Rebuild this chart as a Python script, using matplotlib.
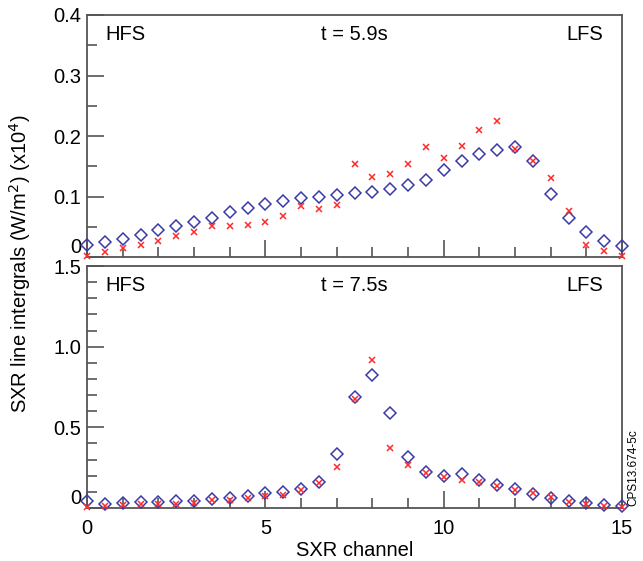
import numpy as np
import matplotlib.pyplot as plt
from matplotlib.ticker import MultipleLocator, FixedLocator

plt.rcParams['font.family'] = ['Liberation Sans', 'DejaVu Sans']

# SXR channel positions (half-channel steps)
channel = np.arange(0, 15.01, 0.5)

# t = 5.9s, values in units of 1e4 W/m^2
blue_59 = [0.020, 0.024, 0.030, 0.036, 0.044, 0.051, 0.058, 0.065, 0.074, 0.081,
           0.088, 0.093, 0.097, 0.100, 0.103, 0.105, 0.108, 0.112, 0.119, 0.127,
           0.144, 0.159, 0.171, 0.177, 0.181, 0.158, 0.104, 0.064, 0.041, 0.027, 0.018]
red_59 = [0.002, 0.008, 0.015, 0.020, 0.027, 0.035, 0.042, 0.051, 0.051, 0.053,
          0.058, 0.068, 0.084, 0.080, 0.086, 0.153, 0.133, 0.137, 0.153, 0.181,
          0.163, 0.184, 0.210, 0.225, 0.178, 0.158, 0.130, 0.076, 0.020, 0.010, 0.001]

# t = 7.5s
blue_75 = [0.045, 0.025, 0.029, 0.035, 0.035, 0.041, 0.045, 0.056, 0.062, 0.074,
           0.093, 0.101, 0.118, 0.159, 0.337, 0.686, 0.824, 0.587, 0.316, 0.221,
           0.200, 0.209, 0.174, 0.143, 0.118, 0.087, 0.060, 0.041, 0.029, 0.021, 0.012]
red_75 = [0.008, 0.010, 0.019, 0.025, 0.025, 0.025, 0.029, 0.050, 0.052, 0.060,
          0.074, 0.083, 0.112, 0.155, 0.252, 0.676, 0.917, 0.372, 0.264, 0.217,
          0.194, 0.176, 0.163, 0.134, 0.114, 0.095, 0.070, 0.039, 0.025, 0.010, 0.008]

panels = [
    ("t = 5.9s", blue_59, red_59, 0.4, [0, 0.1, 0.2, 0.3, 0.4], ["0", "0.1", "0.2", "0.3", "0.4"], 0.05),
    ("t = 7.5s", blue_75, red_75, 1.5, [0, 0.5, 1.0, 1.5], ["0", "0.5", "1.0", "1.5"], 0.1),
]

blue = '#3a3aa8'
red = '#ff2a2a'
axcol = '#555555'
fs = 14.5

fig = plt.figure(figsize=(6.43, 5.61), dpi=100)
W, H = 643.0, 561.0
x0, x1 = 87, 622
rects = [(15, 257), (266, 508)]

for (title, b, r, ymax, yt, ytl, yminor), (top, bot) in zip(panels, rects):
    ax = fig.add_axes([x0 / W, 1 - bot / H, (x1 - x0) / W, (bot - top) / H])
    ax.plot(channel, b, linestyle='none', marker='D', markersize=5.8, markerfacecolor='none',
            markeredgecolor=blue, markeredgewidth=1.1, clip_on=False, zorder=3)
    ax.plot(channel, r, linestyle='none', marker='x', markersize=5, color=red,
            markeredgewidth=1.1, clip_on=False, zorder=4)
    ax.set_xlim(0, 15)
    ax.set_ylim(0, ymax)
    ax.xaxis.set_major_locator(FixedLocator([0, 5, 10, 15]))
    ax.xaxis.set_minor_locator(MultipleLocator(1))
    ax.yaxis.set_major_locator(FixedLocator(yt))
    ax.set_yticklabels(ytl)
    ax.yaxis.set_minor_locator(MultipleLocator(yminor))
    ax.tick_params(which='both', direction='in', colors=axcol, labelcolor='black',
                   labelsize=fs, top=False, right=False)
    ax.tick_params(which='major', length=12, width=1.2)
    ax.tick_params(which='minor', length=7, width=1.2)
    ax.tick_params(axis='y', pad=4)
    ax.tick_params(axis='x', pad=8)
    for s in ax.spines.values():
        s.set_color(axcol)
        s.set_linewidth(1.3)
    # raise the "0" label like the original
    ax.get_yticklabels()[0].set_verticalalignment('bottom')
    ax.text(0.035, 0.92, "HFS", transform=ax.transAxes, fontsize=fs, ha='left', va='center')
    ax.text(0.5, 0.92, title, transform=ax.transAxes, fontsize=fs, ha='center', va='center')
    ax.text(0.965, 0.92, "LFS", transform=ax.transAxes, fontsize=fs, ha='right', va='center')
    if top == 15:
        ax.set_xticklabels([])
    else:
        ax.set_xlabel("SXR channel", fontsize=fs, labelpad=2)

fig.text(20 / W, 0.53, "SXR line intergrals (W/m$^2$) (x10$^4$)", rotation=90,
         fontsize=fs, ha='center', va='center')
fig.text(627 / W, 1 - 506 / H, "CPS13.674-5c", rotation=90, fontsize=8.5,
         ha='left', va='bottom')

fig.savefig('out.png', dpi=100)
